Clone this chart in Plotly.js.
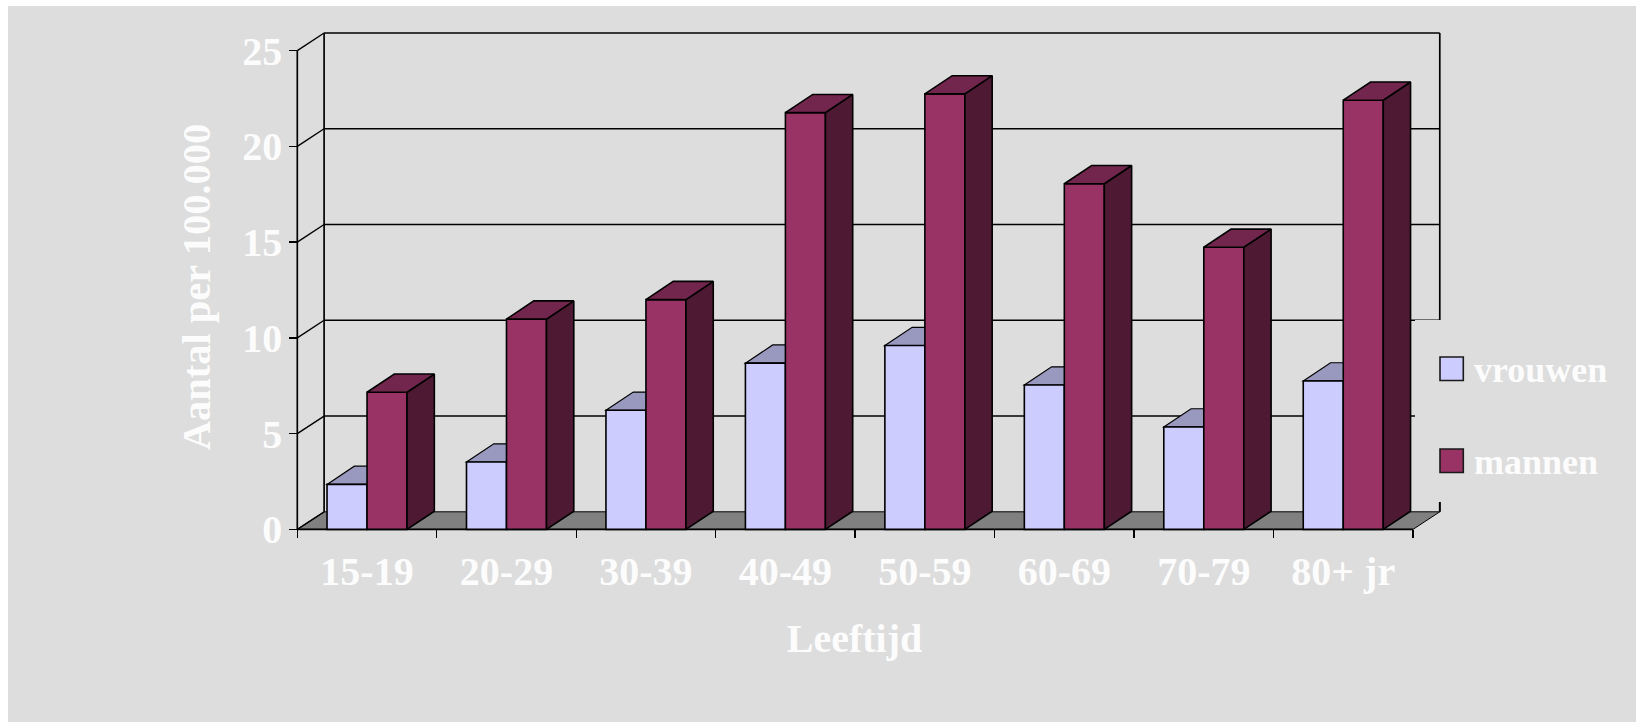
<!DOCTYPE html>
<html><head><meta charset="utf-8">
<script src="https://cdn.plot.ly/plotly-3.0.1.min.js"></script>
<style>html,body{margin:0;padding:0;background:#fff;overflow:hidden}#chart{position:absolute;left:8px;top:6px}</style>
</head><body><div id="chart"></div>
<script>
const categories = ["15-19","20-29","30-39","40-49","50-59","60-69","70-79","80+ jr"];
const vrouwen = [2.35,3.52,6.22,8.68,9.6,7.54,5.35,7.75];
const mannen = [7.16,10.98,12.0,21.76,22.74,18.05,14.73,22.41];
const yTicks = [0,5,10,15,20,25];
const seriesNames = ["vrouwen","mannen"];

const W=1628,H=716,OX=8,OY=6;
// page pixels of the front axes (pxL, pxBase) and of the plot area (areaL..areaR, areaT..areaB)
const pxL=297.3,pxBase=529.4,pxPerCat=139.46,pxPerUnit=19.152;
const areaL=267,areaR=1442,areaT=30,areaB=544;
const depthPx=26.8,risePx=17.6,barDepthPx=27.3,barRisePx=18.2,barPx=40;
const dx=depthPx/pxPerCat, dy=risePx/pxPerUnit, bdx=barDepthPx/pxPerCat, bdy=barRisePx/pxPerUnit, barW=barPx/pxPerCat;
const X=p=>(p-pxL)/pxPerCat-0.5, Y=p=>(pxBase-p)/pxPerUnit;
const xMin=-0.5, xFront=categories.length-0.5, yTop=yTicks[yTicks.length-1];
const idx=categories.map((_,i)=>i);
const BLACK='#000', BG='#DDDDDD', TXT='#FCFCFC', FONT='"Liberation Serif","Times New Roman",serif';
const C={w:'#CCCCFF',wTop:'#9999BF',m:'#993366',mTop:'#73264D',mSide:'#4D1933',floor:'#808080'};
const LW=1.6;
const PX=p=>(p-areaL)/(areaR-areaL), PY=p=>(areaB-p)/(areaB-areaT);

function poly(pts){return 'M'+pts.map(p=>p[0]+','+p[1]).join('L')+'Z';}
function seg(x0,y0,x1,y1,w){return {type:'line',xref:'x',yref:'y',x0,y0,x1,y1,layer:'between',line:{color:BLACK,width:w||LW}};}
const shapes=[];
// floor
shapes.push({type:'path',xref:'x',yref:'y',layer:'between',path:poly([[xMin,0],[xMin+dx,dy],[xFront+dx,dy],[xFront,0]]),fillcolor:C.floor,line:{color:BLACK,width:1}});
// walls and grid
yTicks.forEach(v=>{
  shapes.push(seg(xMin,v,xMin+dx,v+dy,1.4));
  if(v>0) shapes.push(seg(xMin+dx,v+dy,xFront+dx,v+dy,1.4));
});
shapes.push(seg(xMin,0,xMin,yTop,1.7));
shapes.push(seg(xMin+dx,dy,xMin+dx,yTop+dy,1.7));
shapes.push(seg(xFront+dx,dy,xFront+dx,yTop+dy,1.7));
// legend backing hides the wall behind the legend
shapes.push({type:'rect',xref:'x',yref:'y',layer:'between',x0:X(1415),x1:X(1445),y0:Y(502),y1:Y(320),fillcolor:BG,line:{width:0}});
shapes.push(seg(xFront+dx,dy,xFront+dx,Y(502),1.7));
shapes.push(seg(xMin,0,xFront,0,1.7));
// vrouwen tops, hidden in part by the mannen bars
vrouwen.forEach((v,i)=>{
  const l=i-barW;
  shapes.push({type:'path',xref:'x',yref:'y',layer:'between',path:poly([[l,v],[l+bdx,v+bdy],[i+bdx,v+bdy],[i,v]]),fillcolor:C.wTop,line:{color:BLACK,width:1.2}});
});
// legend swatches
const legendRows=[[357,380.5,C.w],[449,472.5,C.m]];
legendRows.forEach(r=>{
  shapes.push({type:'rect',xref:'paper',yref:'paper',layer:'above',
    x0:PX(1440),x1:PX(1463.3),y0:PY(r[1]),y1:PY(r[0]),fillcolor:r[2],line:{color:'#1A1A1A',width:1.6}});
});
const annotations=seriesNames.map((n,i)=>({xref:'paper',yref:'paper',x:PX(1471.5),y:PY([369.5,461.5][i]),xanchor:'left',yanchor:'middle',showarrow:false,text:n,font:{family:FONT,size:36,color:TXT,weight:700}}));

function faces(build){const xs=[],ys=[];mannen.forEach((v,i)=>{build(v,i).forEach(p=>{xs.push(p[0]);ys.push(p[1]);});xs.push(null);ys.push(null);});return {xs,ys};}
const sideFaces=faces((v,i)=>{const r=i+barW;return [[r,0],[r+bdx,bdy],[r+bdx,v+bdy],[r,v],[r,0]];});
const topFaces=faces((v,i)=>[[i,v],[i+bdx,v+bdy],[i+barW+bdx,v+bdy],[i+barW,v],[i,v]]);

const traces=[
 {type:'bar',name:seriesNames[0],x:idx,y:vrouwen,marker:{color:C.w,line:{color:BLACK,width:LW}},hoverinfo:'skip'},
 {type:'bar',name:seriesNames[1],x:idx,y:mannen,marker:{color:C.m,line:{color:BLACK,width:LW}},hoverinfo:'skip'},
 {type:'scatter',mode:'lines',name:'mannen zijkant',x:sideFaces.xs,y:sideFaces.ys,fill:'toself',fillcolor:C.mSide,line:{color:BLACK,width:LW},hoverinfo:'skip',cliponaxis:false},
 {type:'scatter',mode:'lines',name:'mannen bovenkant',x:topFaces.xs,y:topFaces.ys,fill:'toself',fillcolor:C.mTop,line:{color:BLACK,width:LW},hoverinfo:'skip',cliponaxis:false}
];
const layout={
 width:W,height:H,paper_bgcolor:BG,plot_bgcolor:'rgba(0,0,0,0)',showlegend:false,
 font:{family:FONT,color:TXT},
 barmode:'group',bargap:1-2*barW,bargroupgap:0,
 margin:{l:areaL-OX,r:OX+W-areaR,t:areaT-OY,b:OY+H-areaB,pad:0,autoexpand:false},
 xaxis:{type:'linear',range:[X(areaL),X(areaR)],anchor:'free',position:PY(pxBase),tickmode:'array',tickvals:idx,ticktext:categories,ticklen:0,ticks:'',
   showgrid:false,zeroline:false,showline:false,ticklabelstandoff:15,
   tickfont:{family:FONT,size:40,color:TXT,weight:700},
   minor:{tickmode:'array',tickvals:[-0.5,0.5,1.5,2.5,3.5,4.5,5.5,6.5,7.5],ticks:'outside',ticklen:8,tickwidth:1.4,tickcolor:BLACK,showgrid:false},
   title:{text:'Leeftijd',font:{family:FONT,size:40,color:TXT,weight:700},standoff:30}},
 yaxis:{range:[Y(areaB),Y(areaT)],anchor:'free',position:PX(pxL),tickmode:'array',tickvals:yTicks,ticks:'outside',ticklen:8,tickwidth:1.4,tickcolor:BLACK,
   showgrid:false,zeroline:false,showline:false,ticklabelstandoff:-1,
   tickfont:{family:FONT,size:40,color:TXT,weight:700},
   title:{text:'Aantal per 100.000',font:{family:FONT,size:40.5,color:TXT,weight:700},standoff:18}},
 shapes,annotations
};
Plotly.newPlot('chart',traces,layout,{displayModeBar:false,staticPlot:true});
</script></body></html>
